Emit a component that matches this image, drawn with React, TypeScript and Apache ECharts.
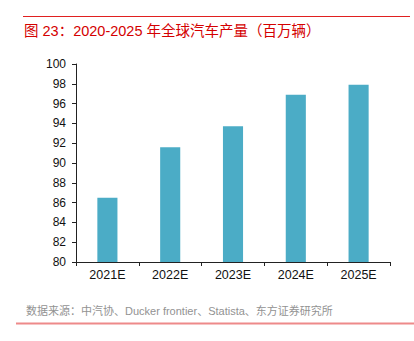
import React, { useEffect, useRef } from "react";
import * as echarts from "echarts";

const categories = ["2021E", "2022E", "2023E", "2024E", "2025E"];
const production = [86.5, 91.6, 93.7, 96.9, 97.9];
const titleText = "图 23：2020-2025 年全球汽车产量（百万辆）";
const sourceText = "数据来源：中汽协、Ducker frontier、Statista、东方证券研究所";

export default function App() {
  const ref = useRef<HTMLDivElement>(null);
  useEffect(() => {
    if (!ref.current) return;
    const chart = echarts.init(ref.current, null, { renderer: "svg" });
    const font = "'Liberation Sans', Arial, 'Noto Sans CJK SC', sans-serif";
    chart.setOption({
      animation: false,
      backgroundColor: "#fff",
      textStyle: { fontFamily: font },
      grid: { left: 76, right: 24, top: 64, bottom: 79, containLabel: false },
      xAxis: {
        type: "category",
        data: categories,
        boundaryGap: true,
        axisLine: { lineStyle: { color: "#222", width: 1 } },
        axisTick: { show: true, length: 4, lineStyle: { color: "#222" } },
        axisLabel: { color: "#111", fontSize: 12.5, fontFamily: font, margin: 7 },
      },
      yAxis: {
        type: "value",
        min: 80,
        max: 100,
        interval: 2,
        splitLine: { show: false },
        axisLine: { show: true, lineStyle: { color: "#222", width: 1 } },
        axisTick: { show: true, length: 4, lineStyle: { color: "#222" } },
        axisLabel: { color: "#111", fontSize: 12, fontFamily: font, margin: 10 },
      },
      series: [
        {
          type: "bar",
          data: production,
          barWidth: "32%",
          itemStyle: { color: "#4BACC6" },
        },
      ],
      graphic: [
        {
          type: "line",
          shape: { x1: 23, y1: 16.5, x2: 410, y2: 16.5 },
          style: { stroke: "#e02020", lineWidth: 1 },
        },
        {
          type: "text",
          x: 24,
          y: 23.5,
          style: {
            text: titleText,
            fill: "#d40000",
            fontSize: 14.5,
            fontFamily: font,
          },
        },
        {
          type: "text",
          x: 26,
          y: 305,
          style: {
            text: sourceText,
            fill: "#929292",
            fontSize: 11,
            fontFamily: font,
          },
        },
        {
          type: "line",
          shape: { x1: 16, y1: 323.5, x2: 414, y2: 323.5 },
          style: { stroke: "#ee8a8a", lineWidth: 2 },
        },
      ],
    });
    return () => chart.dispose();
  }, []);
  return <div ref={ref} style={{ width: 414, height: 341, position: "absolute", left: 0, top: 0 }} />;
}
